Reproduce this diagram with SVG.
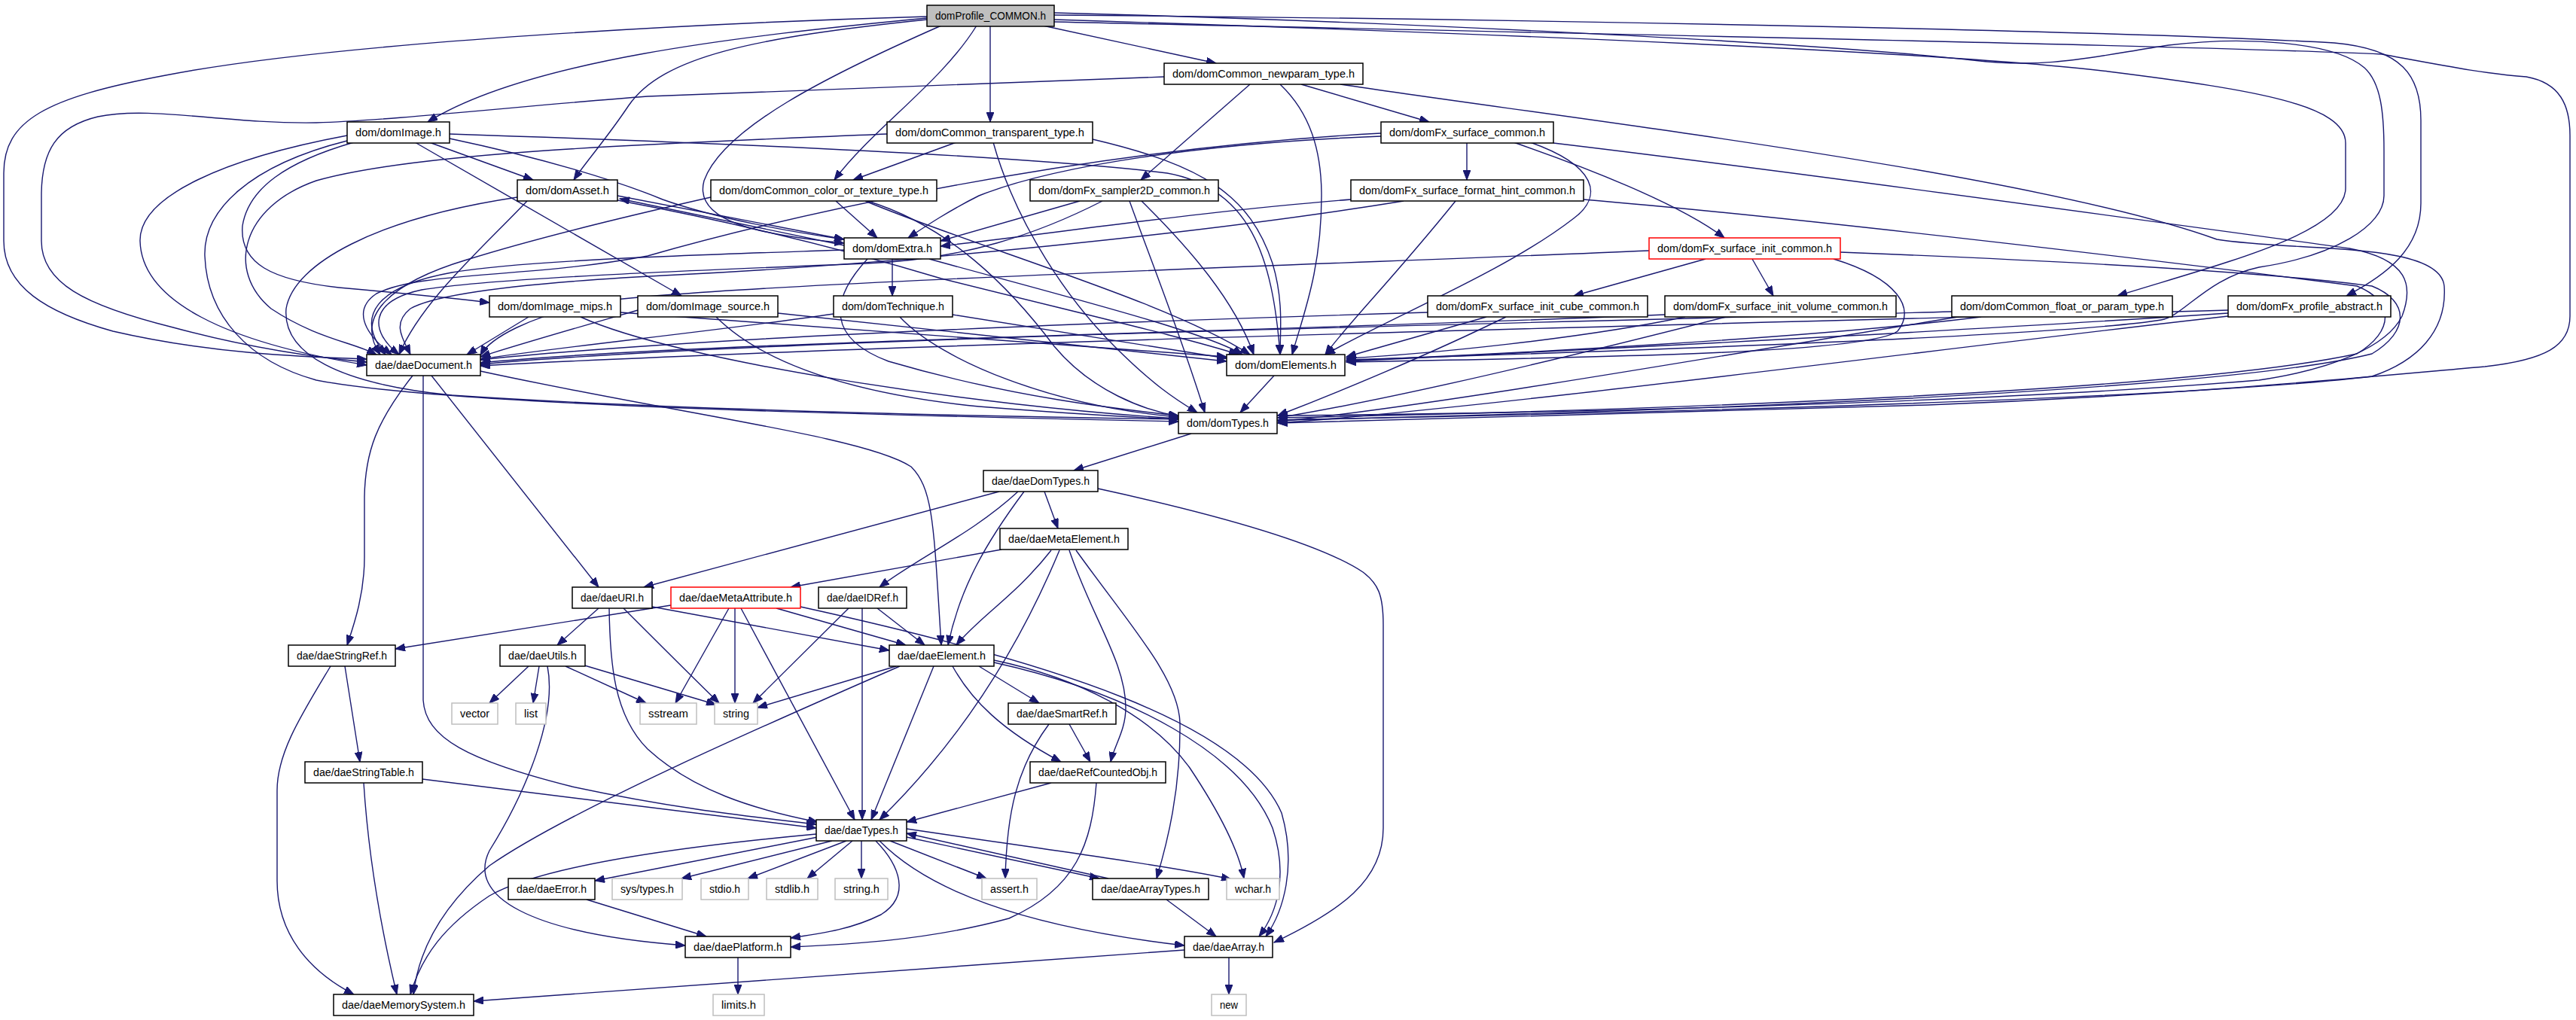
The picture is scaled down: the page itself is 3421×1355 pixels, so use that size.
<svg xmlns="http://www.w3.org/2000/svg" width="3421" height="1355" viewBox="0 0 3421 1355">
<style>
.n rect{fill:#fff;stroke:#000;stroke-width:1.5}
.n.g rect{stroke:#bfbfbf}
.n.r rect{stroke:#ff0000}
.n.t rect{fill:#bfbfbf}
.n text{font-family:"Liberation Sans",Arial,sans-serif;font-size:14px;text-anchor:middle;fill:#000}
#edges path{fill:none;stroke:#191970;stroke-width:1.4;marker-end:url(#a)}
</style>
<defs>
<marker id="a" markerUnits="userSpaceOnUse" markerWidth="14" markerHeight="10" refX="13" refY="5" orient="auto">
<path d="M0,0 L13,5 L0,10 z" fill="#191970" stroke="#191970" stroke-width="1"/>
</marker>
</defs>
<rect width="3421" height="1355" fill="#fff"/>
<g id="edges">
<path d="M1231,22 C950,30 450,55 220,100 C60,130 5,160 5,230 L5,320 C5,380 60,415 150,440 C280,470 400,474 487,477"/>
<path d="M1231,24 C980,48 700,80 568,162"/>
<path d="M1231,26 C1000,50 880,75 835,140 C805,185 778,215 762,239"/>
<path d="M1250,34 C1100,100 960,170 935,240 C920,295 1010,312 1121,323"/>
<path d="M1297,34 C1250,110 1160,170 1108,239"/>
<path d="M1315,34 L1315,162"/>
<path d="M1385,34 L1615,84"/>
<path d="M1400,17 C1800,27 2400,55 2620,80 C2720,92 2780,75 2880,60 C2980,48 3100,55 3140,90 C3162,110 3166,150 3166,200 L3166,260 C3166,300 3100,340 3000,355 C2930,370 2900,420 2870,425 C2750,445 2200,465 1788,478"/>
<path d="M1400,20 C2000,25 2800,40 3100,57 C3190,65 3215,100 3215,160 L3215,270 C3215,330 3170,365 3116,393"/>
<path d="M1400,26 C2000,45 2600,70 2800,95 C3000,120 3115,140 3115,190 L3115,250 C3115,310 2950,350 2812,393"/>
<path d="M1400,29 C2100,45 2900,60 3163,72 C3250,88 3300,98 3355,102 C3400,110 3413,140 3413,180 L3413,420 C3413,460 3380,478 3300,487 C3150,500 2900,525 2560,538 C2200,548 1900,555 1697,562"/>
<path d="M1546,102 L860,128 C700,140 520,160 420,163 C300,165 200,140 130,155 C75,168 55,200 55,260 L55,320 C55,375 110,405 230,435 C330,462 420,475 487,481"/>
<path d="M1660,112 L1515,239"/>
<path d="M1728,112 L1898,162"/>
<path d="M1700,112 C1740,150 1755,200 1755,260 C1755,360 1730,420 1716,471"/>
<path d="M1780,112 C2100,160 2700,230 2944,318 C3050,335 3240,320 3246,380 C3250,440 3210,480 3150,500 C2900,530 2200,548 1697,558"/>
<path d="M570,189 L708,239"/>
<path d="M551,189 L905,393"/>
<path d="M470,189 C380,215 330,250 322,300 C318,350 360,372 450,382 C540,390 600,396 650,402"/>
<path d="M461,180 C300,210 185,260 186,320 C188,400 300,455 487,485"/>
<path d="M461,187 C330,220 270,280 272,340 C275,420 330,480 420,505 C600,540 1200,552 1565,560"/>
<path d="M597,178 C900,188 1350,205 1550,230 C1660,250 1690,340 1700,471"/>
<path d="M597,184 C720,210 820,240 880,265 C950,290 1050,308 1121,318"/>
<path d="M700,267 C640,330 560,400 530,471"/>
<path d="M687,262 C500,290 390,350 380,410 C375,470 450,510 600,525 C900,545 1300,553 1565,557"/>
<path d="M820,266 C1000,300 1150,340 1250,370 C1450,420 1580,450 1645,471"/>
<path d="M820,260 L1121,318"/>
<path d="M1121,326 L823,264"/>
<path d="M1110,267 L1165,316"/>
<path d="M944,262 C820,290 700,320 620,345 C520,375 470,420 505,471"/>
<path d="M1152,267 C1260,300 1340,380 1400,460 C1450,520 1520,545 1565,553"/>
<path d="M1149,267 C1300,330 1550,400 1660,471"/>
<path d="M1270,189 L1133,239"/>
<path d="M1178,178 C900,190 560,200 420,240 C320,275 300,360 360,410 C420,450 470,455 500,471"/>
<path d="M1319,189 C1350,300 1420,400 1480,460 C1530,510 1560,530 1590,548"/>
<path d="M1451,185 C1600,220 1660,260 1690,350 C1705,400 1700,440 1700,471"/>
<path d="M1948,189 L1948,239"/>
<path d="M2010,189 C2100,220 2230,270 2290,316"/>
<path d="M1834,181 C1600,190 1400,220 1300,260 C1260,280 1230,300 1206,316"/>
<path d="M1834,177 C1400,200 1000,300 860,340 C700,370 560,360 500,390 C470,410 480,440 520,471"/>
<path d="M2032,189 C2120,220 2130,260 2090,290 C2000,360 1850,420 1760,471"/>
<path d="M2063,190 C2400,230 2900,300 3120,330 C3200,345 3205,380 3190,420 C3170,460 3100,490 3000,505 C2700,530 2200,548 1697,552"/>
<path d="M1794,265 C1600,280 1400,310 1249,327"/>
<path d="M1864,267 C1600,310 1200,350 900,365 C700,375 580,390 545,410 C520,430 535,450 545,471"/>
<path d="M1933,267 C1850,370 1790,430 1760,471"/>
<path d="M2103,265 C2400,290 2900,350 3130,380 C3180,400 3180,440 3130,470 C2900,520 2200,545 1697,555"/>
<path d="M1434,267 L1249,320"/>
<path d="M1464,267 C1380,310 1280,345 1150,350 C900,360 650,370 560,385 C490,400 490,440 530,471"/>
<path d="M1500,267 C1530,350 1570,450 1600,548"/>
<path d="M1516,267 C1580,330 1640,400 1665,471"/>
<path d="M2265,344 L2090,393"/>
<path d="M2327,344 L2355,393"/>
<path d="M2190,333 C1800,350 1000,375 800,400 C700,420 650,450 638,472"/>
<path d="M2435,344 C2520,370 2545,410 2520,440 C2480,470 2100,475 1788,481"/>
<path d="M2444,335 C2700,345 3000,360 3150,380 C3200,400 3200,440 3150,470 C2950,520 2200,548 1697,558"/>
<path d="M1896,415 C1400,430 900,450 638,478"/>
<path d="M1974,421 L1788,474"/>
<path d="M2000,421 C1900,470 1780,520 1697,552"/>
<path d="M2211,418 C1700,440 900,455 638,482"/>
<path d="M2238,421 C2100,450 1900,470 1788,476"/>
<path d="M2292,421 C2100,470 1850,530 1697,555"/>
<path d="M2592,414 C2000,430 1000,450 638,484"/>
<path d="M2631,421 C2400,450 2000,470 1788,479"/>
<path d="M2600,421 C2300,470 1900,540 1697,560"/>
<path d="M2959,412 C2300,430 1200,455 638,486"/>
<path d="M2959,416 C2600,440 2100,465 1788,480"/>
<path d="M2959,420 C2600,460 2000,540 1697,562"/>
<path d="M1185,344 L1185,393"/>
<path d="M1121,332 C950,338 700,345 600,362 C500,380 470,420 512,471"/>
<path d="M1234,344 C1400,390 1600,440 1650,471"/>
<path d="M1152,344 C1100,400 1100,450 1180,480 C1350,530 1500,545 1565,552"/>
<path d="M702,421 L620,471"/>
<path d="M771,421 C900,480 1300,540 1565,556"/>
<path d="M824,415 L1629,474"/>
<path d="M847,412 C750,440 680,460 638,474"/>
<path d="M951,421 C1000,470 1100,520 1300,540 C1450,552 1520,555 1565,557"/>
<path d="M1033,416 L1629,480"/>
<path d="M1107,417 C950,440 750,460 638,477"/>
<path d="M1195,421 C1250,480 1400,540 1565,554"/>
<path d="M1265,418 L1629,476"/>
<path d="M548,499 C500,560 485,600 484,660 L484,740 C484,790 470,830 461,857"/>
<path d="M573,499 L795,780"/>
<path d="M562,499 L562,930 C565,980 620,1010 760,1045 C900,1075 1000,1085 1084,1095"/>
<path d="M638,493 C900,550 1150,580 1210,620 C1240,650 1240,700 1250,857"/>
<path d="M1692,499 L1647,548"/>
<path d="M1582,576 L1426,625"/>
<path d="M1327,653 L855,780"/>
<path d="M1352,653 C1290,710 1220,740 1168,780"/>
<path d="M1360,653 C1310,720 1275,780 1259,857"/>
<path d="M1387,653 L1405,702"/>
<path d="M1458,649 C1600,680 1750,720 1810,760 C1830,775 1837,790 1837,830 L1837,1100 C1837,1170 1780,1210 1692,1252"/>
<path d="M1330,730 L1050,780"/>
<path d="M1396,731 C1350,790 1300,820 1270,857"/>
<path d="M1407,731 C1370,820 1300,960 1168,1089"/>
<path d="M1420,731 C1450,820 1495,880 1495,940 C1495,970 1480,990 1475,1012"/>
<path d="M1429,731 C1500,830 1565,900 1567,960 C1568,1050 1550,1120 1536,1167"/>
<path d="M795,808 L740,857"/>
<path d="M828,808 C870,850 920,900 955,934"/>
<path d="M809,808 C810,880 815,950 860,995 C920,1050 1000,1075 1086,1092"/>
<path d="M866,806 L1181,864"/>
<path d="M891,804 L525,862"/>
<path d="M968,808 L897,934"/>
<path d="M976,808 L976,934"/>
<path d="M984,808 L1135,1089"/>
<path d="M1031,808 L1203,857"/>
<path d="M1063,806 C1400,880 1650,960 1702,1080 C1722,1150 1705,1210 1681,1244"/>
<path d="M1127,808 L1000,934"/>
<path d="M1145,808 L1145,1089"/>
<path d="M1165,808 L1228,857"/>
<path d="M439,885 C400,950 368,1000 368,1050 L368,1170 C368,1240 410,1290 470,1321"/>
<path d="M458,885 L478,1012"/>
<path d="M702,885 L650,934"/>
<path d="M716,885 L708,934"/>
<path d="M727,885 C740,950 700,1050 650,1130 C620,1190 700,1240 910,1256"/>
<path d="M751,885 L858,934"/>
<path d="M773,883 L951,936"/>
<path d="M1190,885 L1006,940"/>
<path d="M1195,885 C1000,970 750,1080 650,1150 C580,1210 555,1270 549,1321"/>
<path d="M1240,885 L1157,1089"/>
<path d="M1300,885 L1380,934"/>
<path d="M1265,885 C1290,930 1330,970 1409,1012"/>
<path d="M1320,877 C1430,900 1530,950 1580,1020 C1620,1080 1645,1130 1652,1167"/>
<path d="M1320,880 C1500,920 1650,1000 1690,1100 C1710,1160 1698,1210 1672,1244"/>
<path d="M1420,962 L1448,1012"/>
<path d="M1393,962 C1350,1020 1337,1080 1335,1167"/>
<path d="M483,1040 C490,1150 510,1250 527,1321"/>
<path d="M561,1035 L1084,1100"/>
<path d="M1396,1040 L1204,1092"/>
<path d="M1456,1040 C1450,1120 1430,1180 1340,1220 C1230,1250 1120,1255 1050,1258"/>
<path d="M1086,1112 L790,1170"/>
<path d="M1105,1117 L905,1167"/>
<path d="M1124,1117 L993,1167"/>
<path d="M1132,1117 L1072,1167"/>
<path d="M1144,1117 L1144,1167"/>
<path d="M1182,1117 L1310,1167"/>
<path d="M1204,1112 L1460,1167"/>
<path d="M1472,1167 L1204,1107"/>
<path d="M1204,1101 C1400,1130 1550,1150 1635,1168"/>
<path d="M1163,1117 C1195,1150 1210,1190 1170,1215 C1130,1235 1090,1240 1050,1246"/>
<path d="M1168,1117 C1230,1180 1350,1230 1573,1256"/>
<path d="M1084,1108 C900,1125 720,1150 650,1190 C590,1230 560,1270 545,1321"/>
<path d="M1549,1195 L1615,1244"/>
<path d="M779,1195 L938,1244"/>
<path d="M980,1272 L980,1321"/>
<path d="M1632,1272 L1632,1321"/>
<path d="M1573,1262 L629,1330"/>
</g>
<g id="n_P" class="n t"><rect x="1231" y="7" width="169" height="28"/><text x="1315.5" y="26" textLength="147" lengthAdjust="spacingAndGlyphs">domProfile_COMMON.h</text></g>
<g id="n_NP" class="n"><rect x="1546" y="84" width="264" height="28"/><text x="1678" y="103" textLength="242" lengthAdjust="spacingAndGlyphs">dom/domCommon_newparam_type.h</text></g>
<g id="n_IMG" class="n"><rect x="461" y="162" width="136" height="28"/><text x="529" y="181" textLength="114" lengthAdjust="spacingAndGlyphs">dom/domImage.h</text></g>
<g id="n_TR" class="n"><rect x="1178" y="162" width="273" height="28"/><text x="1314.5" y="181" textLength="251" lengthAdjust="spacingAndGlyphs">dom/domCommon_transparent_type.h</text></g>
<g id="n_SC" class="n"><rect x="1834" y="162" width="229" height="28"/><text x="1948.5" y="181" textLength="207" lengthAdjust="spacingAndGlyphs">dom/domFx_surface_common.h</text></g>
<g id="n_AS" class="n"><rect x="687" y="239" width="133" height="28"/><text x="753.5" y="258" textLength="111" lengthAdjust="spacingAndGlyphs">dom/domAsset.h</text></g>
<g id="n_CT" class="n"><rect x="944" y="239" width="300" height="28"/><text x="1094" y="258" textLength="278" lengthAdjust="spacingAndGlyphs">dom/domCommon_color_or_texture_type.h</text></g>
<g id="n_S2D" class="n"><rect x="1368" y="239" width="250" height="28"/><text x="1493" y="258" textLength="228" lengthAdjust="spacingAndGlyphs">dom/domFx_sampler2D_common.h</text></g>
<g id="n_FH" class="n"><rect x="1794" y="239" width="309" height="28"/><text x="1948.5" y="258" textLength="287" lengthAdjust="spacingAndGlyphs">dom/domFx_surface_format_hint_common.h</text></g>
<g id="n_EX" class="n"><rect x="1121" y="316" width="128" height="28"/><text x="1185" y="335" textLength="106" lengthAdjust="spacingAndGlyphs">dom/domExtra.h</text></g>
<g id="n_SI" class="n r"><rect x="2190" y="316" width="254" height="28"/><text x="2317" y="335" textLength="232" lengthAdjust="spacingAndGlyphs">dom/domFx_surface_init_common.h</text></g>
<g id="n_MIPS" class="n"><rect x="650" y="393" width="174" height="28"/><text x="737" y="412" textLength="152" lengthAdjust="spacingAndGlyphs">dom/domImage_mips.h</text></g>
<g id="n_SRC" class="n"><rect x="847" y="393" width="186" height="28"/><text x="940" y="412" textLength="164" lengthAdjust="spacingAndGlyphs">dom/domImage_source.h</text></g>
<g id="n_TECH" class="n"><rect x="1107" y="393" width="158" height="28"/><text x="1186" y="412" textLength="136" lengthAdjust="spacingAndGlyphs">dom/domTechnique.h</text></g>
<g id="n_CUBE" class="n"><rect x="1896" y="393" width="292" height="28"/><text x="2042" y="412" textLength="270" lengthAdjust="spacingAndGlyphs">dom/domFx_surface_init_cube_common.h</text></g>
<g id="n_VOL" class="n"><rect x="2211" y="393" width="307" height="28"/><text x="2364.5" y="412" textLength="285" lengthAdjust="spacingAndGlyphs">dom/domFx_surface_init_volume_common.h</text></g>
<g id="n_FP" class="n"><rect x="2592" y="393" width="293" height="28"/><text x="2738.5" y="412" textLength="271" lengthAdjust="spacingAndGlyphs">dom/domCommon_float_or_param_type.h</text></g>
<g id="n_PA" class="n"><rect x="2959" y="393" width="216" height="28"/><text x="3067" y="412" textLength="194" lengthAdjust="spacingAndGlyphs">dom/domFx_profile_abstract.h</text></g>
<g id="n_DOC" class="n"><rect x="487" y="471" width="151" height="28"/><text x="562.5" y="490" textLength="129" lengthAdjust="spacingAndGlyphs">dae/daeDocument.h</text></g>
<g id="n_EL" class="n"><rect x="1629" y="471" width="157" height="28"/><text x="1707.5" y="490" textLength="135" lengthAdjust="spacingAndGlyphs">dom/domElements.h</text></g>
<g id="n_DT" class="n"><rect x="1565" y="548" width="131" height="28"/><text x="1630.5" y="567" textLength="109" lengthAdjust="spacingAndGlyphs">dom/domTypes.h</text></g>
<g id="n_DDT" class="n"><rect x="1306" y="625" width="152" height="28"/><text x="1382" y="644" textLength="130" lengthAdjust="spacingAndGlyphs">dae/daeDomTypes.h</text></g>
<g id="n_ME" class="n"><rect x="1328" y="702" width="170" height="28"/><text x="1413" y="721" textLength="148" lengthAdjust="spacingAndGlyphs">dae/daeMetaElement.h</text></g>
<g id="n_URI" class="n"><rect x="760" y="780" width="106" height="28"/><text x="813" y="799" textLength="84" lengthAdjust="spacingAndGlyphs">dae/daeURI.h</text></g>
<g id="n_MA" class="n r"><rect x="891" y="780" width="172" height="28"/><text x="977" y="799" textLength="150" lengthAdjust="spacingAndGlyphs">dae/daeMetaAttribute.h</text></g>
<g id="n_IDR" class="n"><rect x="1087" y="780" width="117" height="28"/><text x="1145.5" y="799" textLength="95" lengthAdjust="spacingAndGlyphs">dae/daeIDRef.h</text></g>
<g id="n_SR" class="n"><rect x="383" y="857" width="142" height="28"/><text x="454" y="876" textLength="120" lengthAdjust="spacingAndGlyphs">dae/daeStringRef.h</text></g>
<g id="n_UT" class="n"><rect x="664" y="857" width="113" height="28"/><text x="720.5" y="876" textLength="91" lengthAdjust="spacingAndGlyphs">dae/daeUtils.h</text></g>
<g id="n_ELM" class="n"><rect x="1181" y="857" width="139" height="28"/><text x="1250.5" y="876" textLength="117" lengthAdjust="spacingAndGlyphs">dae/daeElement.h</text></g>
<g id="n_vector" class="n g"><rect x="600" y="934" width="61" height="28"/><text x="630.5" y="953" textLength="39" lengthAdjust="spacingAndGlyphs">vector</text></g>
<g id="n_list" class="n g"><rect x="685" y="934" width="40" height="28"/><text x="705" y="953" textLength="18" lengthAdjust="spacingAndGlyphs">list</text></g>
<g id="n_sstream" class="n g"><rect x="850" y="934" width="75" height="28"/><text x="887.5" y="953" textLength="53" lengthAdjust="spacingAndGlyphs">sstream</text></g>
<g id="n_string" class="n g"><rect x="949" y="934" width="57" height="28"/><text x="977.5" y="953" textLength="35" lengthAdjust="spacingAndGlyphs">string</text></g>
<g id="n_SMR" class="n"><rect x="1339" y="934" width="143" height="28"/><text x="1410.5" y="953" textLength="121" lengthAdjust="spacingAndGlyphs">dae/daeSmartRef.h</text></g>
<g id="n_ST" class="n"><rect x="405" y="1012" width="156" height="28"/><text x="483" y="1031" textLength="134" lengthAdjust="spacingAndGlyphs">dae/daeStringTable.h</text></g>
<g id="n_RCO" class="n"><rect x="1368" y="1012" width="180" height="28"/><text x="1458" y="1031" textLength="158" lengthAdjust="spacingAndGlyphs">dae/daeRefCountedObj.h</text></g>
<g id="n_TY" class="n"><rect x="1084" y="1089" width="120" height="28"/><text x="1144" y="1108" textLength="98" lengthAdjust="spacingAndGlyphs">dae/daeTypes.h</text></g>
<g id="n_ERR" class="n"><rect x="675" y="1167" width="115" height="28"/><text x="732.5" y="1186" textLength="93" lengthAdjust="spacingAndGlyphs">dae/daeError.h</text></g>
<g id="n_systypes" class="n g"><rect x="813" y="1167" width="93" height="28"/><text x="859.5" y="1186" textLength="71" lengthAdjust="spacingAndGlyphs">sys/types.h</text></g>
<g id="n_stdio" class="n g"><rect x="931" y="1167" width="63" height="28"/><text x="962.5" y="1186" textLength="41" lengthAdjust="spacingAndGlyphs">stdio.h</text></g>
<g id="n_stdlib" class="n g"><rect x="1018" y="1167" width="68" height="28"/><text x="1052" y="1186" textLength="46" lengthAdjust="spacingAndGlyphs">stdlib.h</text></g>
<g id="n_stringh" class="n g"><rect x="1109" y="1167" width="70" height="28"/><text x="1144" y="1186" textLength="48" lengthAdjust="spacingAndGlyphs">string.h</text></g>
<g id="n_assert" class="n g"><rect x="1304" y="1167" width="73" height="28"/><text x="1340.5" y="1186" textLength="51" lengthAdjust="spacingAndGlyphs">assert.h</text></g>
<g id="n_AT" class="n"><rect x="1451" y="1167" width="154" height="28"/><text x="1528" y="1186" textLength="132" lengthAdjust="spacingAndGlyphs">dae/daeArrayTypes.h</text></g>
<g id="n_wchar" class="n g"><rect x="1629" y="1167" width="70" height="28"/><text x="1664" y="1186" textLength="48" lengthAdjust="spacingAndGlyphs">wchar.h</text></g>
<g id="n_PL" class="n"><rect x="910" y="1244" width="140" height="28"/><text x="980" y="1263" textLength="118" lengthAdjust="spacingAndGlyphs">dae/daePlatform.h</text></g>
<g id="n_AR" class="n"><rect x="1573" y="1244" width="117" height="28"/><text x="1631.5" y="1263" textLength="95" lengthAdjust="spacingAndGlyphs">dae/daeArray.h</text></g>
<g id="n_limits" class="n g"><rect x="947" y="1321" width="68" height="28"/><text x="981" y="1340" textLength="46" lengthAdjust="spacingAndGlyphs">limits.h</text></g>
<g id="n_new" class="n g"><rect x="1609" y="1321" width="46" height="28"/><text x="1632" y="1340" textLength="24" lengthAdjust="spacingAndGlyphs">new</text></g>
<g id="n_MEM" class="n"><rect x="443" y="1321" width="186" height="28"/><text x="536" y="1340" textLength="164" lengthAdjust="spacingAndGlyphs">dae/daeMemorySystem.h</text></g>
</svg>
